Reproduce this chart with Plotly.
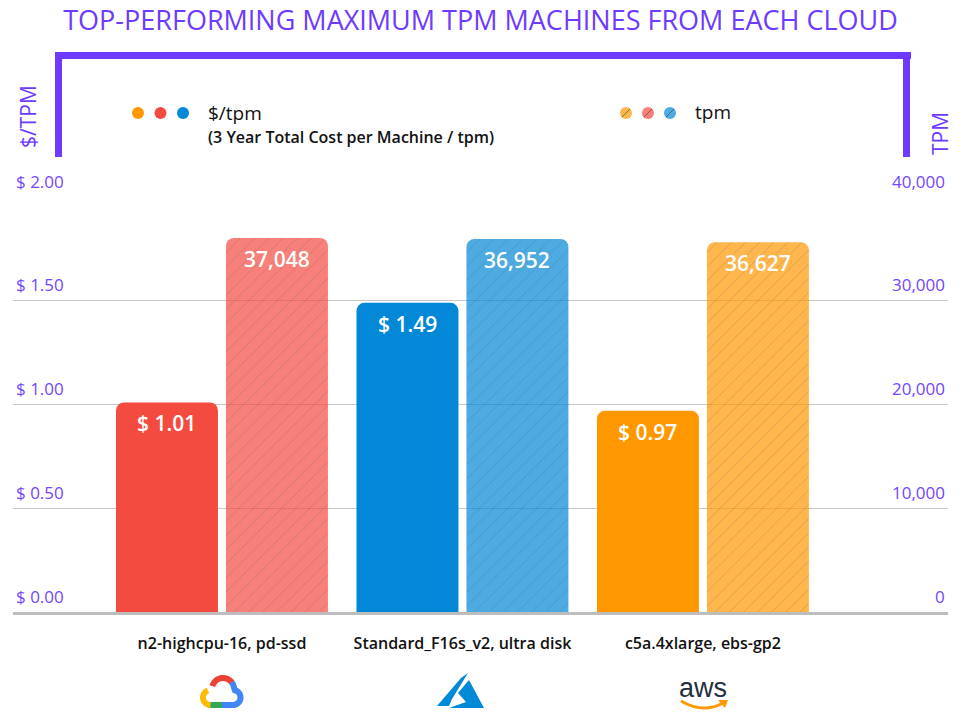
import numpy as np
import plotly.graph_objects as go

# ---------------- data ----------------
machines = ["n2-highcpu-16, pd-ssd", "Standard_F16s_v2, ultra disk", "c5a.4xlarge, ebs-gp2"]
clouds = ["gcp", "azure", "aws"]
cost_per_tpm = [1.01, 1.49, 0.97]
tpm = [37048, 36952, 36627]
cost_ticks = [0, 0.5, 1.0, 1.5, 2.0]
tpm_tick_labels = ["0", "10,000", "20,000", "30,000", "40,000"]
title_text = "TOP-PERFORMING MAXIMUM TPM MACHINES FROM EACH CLOUD"

# ---------------- style ----------------
W, H = 961, 723
L, R, T, B = 13, 13, 197, 111
PURPLE = "#6E3AFF"
TICK_PURPLE = "#7446FF"
colors = ["#F44B41", "#0288D6", "#FF9800"]
FONT = "Open Sans"

x_lo, x_hi = -0.869, 3.019
bar_w = 0.424
off1 = -0.4407
off2 = 0.0166
TPM_MAX = 41100


def rgba(hexc, a):
    h = hexc.lstrip("#")
    return f"rgba({int(h[0:2],16)},{int(h[2:4],16)},{int(h[4:6],16)},{a})"


light = [rgba(c, 0.7) for c in colors]


def px(x):
    return (x - L) / (W - L - R)


def py(y):
    return (H - B - y) / (H - T - B)


xs = list(range(len(machines)))

fig = go.Figure()
fig.add_trace(go.Bar(
    x=xs, y=cost_per_tpm, width=[bar_w] * 3, offset=off1,
    marker=dict(color=colors, line=dict(width=0)),
    name="$/tpm", showlegend=False, hoverinfo="skip"))
fig.add_trace(go.Bar(
    x=xs, y=tpm, width=[bar_w] * 3, offset=off2, yaxis="y2",
    marker=dict(color=light, line=dict(width=0),
                pattern=dict(shape="/", size=10, solidity=0.08, fillmode="overlay",
                             fgcolor="rgb(40,40,40)", fgopacity=0.25)),
    name="tpm", showlegend=False, hoverinfo="skip"))

ann = []
# value labels
for i, v in enumerate(cost_per_tpm):
    ann.append(dict(x=i + off1 + bar_w / 2, y=v, xref="x", yref="y",
                    text=f"$ {v:.2f}", showarrow=False, xanchor="center", yanchor="middle",
                    yshift=-21, font=dict(family=FONT, size=21, color="white", weight=600)))
for i, v in enumerate(tpm):
    ann.append(dict(x=i + off2 + bar_w / 2, y=v, xref="x", yref="y2",
                    text=f"{v:,}", showarrow=False, xanchor="center", yanchor="middle",
                    yshift=-21, font=dict(family=FONT, size=21, color="white", weight=600)))
# axis tick labels (left and right)
for v, lab in zip(cost_ticks, tpm_tick_labels):
    ann.append(dict(x=px(14), y=v, xref="paper", yref="y", text=f"$ {v:.2f}",
                    showarrow=False, xanchor="left", yanchor="middle", yshift=16,
                    font=dict(family=FONT, size=17, color=TICK_PURPLE)))
    ann.append(dict(x=px(947), y=v, xref="paper", yref="y", text=lab,
                    showarrow=False, xanchor="right", yanchor="middle", yshift=16,
                    font=dict(family=FONT, size=17, color=TICK_PURPLE)))
# axis titles
ann.append(dict(x=px(28), y=py(117), xref="paper", yref="paper", text="$/TPM",
                showarrow=False, textangle=-90, xanchor="center", yanchor="middle",
                font=dict(family=FONT, size=21, color=PURPLE)))
ann.append(dict(x=px(940), y=py(134), xref="paper", yref="paper", text="TPM",
                showarrow=False, textangle=-90, xanchor="center", yanchor="middle",
                font=dict(family=FONT, size=21, color=PURPLE)))
# legend text
ann.append(dict(x=px(206), y=py(113), xref="paper", yref="paper", text="$/tpm",
                showarrow=False, xanchor="left", yanchor="middle",
                font=dict(family=FONT, size=19, color="#111111")))
ann.append(dict(x=px(206), y=py(137), xref="paper", yref="paper",
                text="(3 Year Total Cost per Machine / tpm)",
                showarrow=False, xanchor="left", yanchor="middle",
                font=dict(family=FONT, size=16, color="#111111", weight=600)))
ann.append(dict(x=px(693), y=py(112), xref="paper", yref="paper", text="tpm",
                showarrow=False, xanchor="left", yanchor="middle",
                font=dict(family=FONT, size=19, color="#111111")))
# aws logo text
ann.append(dict(x=px(703), y=py(688), xref="paper", yref="paper", text="aws",
                showarrow=False, xanchor="center", yanchor="middle",
                font=dict(family="Liberation Sans", size=27, color="#232F3E")))

shapes = []


def rect(x0, y0, x1, y1, color):
    shapes.append(dict(type="rect", xref="paper", yref="paper",
                       x0=px(x0), x1=px(x1), y0=py(y1), y1=py(y0),
                       fillcolor=color, line=dict(width=0), layer="above"))


# purple bracket
rect(55, 52, 911, 59, PURPLE)
rect(55, 52, 62, 157, PURPLE)
rect(903, 52, 910, 157, PURPLE)


def circle(cx, cy, r, color, opacity=1.0):
    shapes.append(dict(type="circle", xref="paper", yref="paper",
                       x0=px(cx - r), x1=px(cx + r), y0=py(cy + r), y1=py(cy - r),
                       fillcolor=color, opacity=opacity, line=dict(width=0)))


legend_order = [2, 0, 1]  # orange, red, blue
for k, ci in enumerate(legend_order):
    circle(138 + 22.5 * k, 113, 6, colors[ci])
    cx = 626 + 22 * k
    circle(cx, 113, 6, colors[ci], 0.7)
    shapes.append(dict(type="line", xref="paper", yref="paper",
                       x0=px(cx - 4), y0=py(117), x1=px(cx + 4), y1=py(109),
                       line=dict(color="rgba(60,60,60,0.6)", width=1)))


def path_str(points):
    return "M " + " L ".join(f"{px(x):.5f},{py(y):.5f}" for x, y in points)


def arc(cx, cy, r, a0, a1, n=24):
    a = np.radians(np.linspace(a0, a1, n))
    return list(zip(cx + r * np.cos(a), cy - r * np.sin(a)))


def stroke(points, color, width):
    shapes.append(dict(type="path", xref="paper", yref="paper",
                       path=path_str(points), line=dict(color=color, width=width),
                       fillcolor="rgba(0,0,0,0)"))


def fill(points, color):
    shapes.append(dict(type="path", xref="paper", yref="paper",
                       path=path_str(points) + " Z", line=dict(width=0),
                       fillcolor=color))


# Google Cloud logo
stroke(arc(223, 689, 11, 165, 35), "#EA4335", 6)
stroke(arc(223, 689, 11, 38, 10, 8) + arc(233, 697.5, 7.5, 75, -90) + [(222, 705)], "#4285F4", 6)
stroke([(222, 705), (210, 705)], "#34A853", 6)
stroke(arc(210.5, 697.5, 7.5, 110, 270), "#FBBC05", 6)

# Azure logo
fill([(437, 706), (461, 678), (468, 673), (452, 699), (449, 706)], "#0089D6")
fill([(469, 680), (484, 708), (449, 708), (466, 702), (458, 693)], "#0089D6")

# AWS smile
shapes.append(dict(type="path", xref="paper", yref="paper",
                   path=f"M {px(681)},{py(701)} Q {px(703)},{py(714)} {px(723)},{py(703)}",
                   line=dict(color="#FF9900", width=3)))
fill([(718, 700), (728, 700), (725, 708)], "#FF9900")

fig.update_layout(
    width=W, height=H,
    margin=dict(l=L, r=R, t=T, b=B),
    paper_bgcolor="white", plot_bgcolor="white",
    barmode="overlay", barcornerradius=8,
    title=dict(text=title_text, x=0.5, xanchor="center", y=1 - 21 / H,
               yanchor="middle", yref="container",
               font=dict(family=FONT, size=27, color=PURPLE)),
    xaxis=dict(range=[x_lo, x_hi], tickvals=xs, ticktext=machines,
               showgrid=False, zeroline=False, showline=True,
               linecolor="#BDBDBD", linewidth=3, ticks="",
               ticklabelstandoff=15,
               tickfont=dict(family=FONT, size=16, color="#111111", weight=600)),
    yaxis=dict(range=[0, 2], tickvals=cost_ticks, showticklabels=False,
               showgrid=True, gridcolor="#C8C8C8", gridwidth=1,
               zeroline=False, showline=False),
    yaxis2=dict(range=[0, TPM_MAX], overlaying="y", side="right",
                showticklabels=False, showgrid=False, zeroline=False),
    annotations=ann, shapes=shapes,
    font=dict(family=FONT),
)

fig.write_html("out.html", config={"displayModeBar": False},
               post_script="document.body.style.margin='0';document.body.style.overflow='hidden';")
